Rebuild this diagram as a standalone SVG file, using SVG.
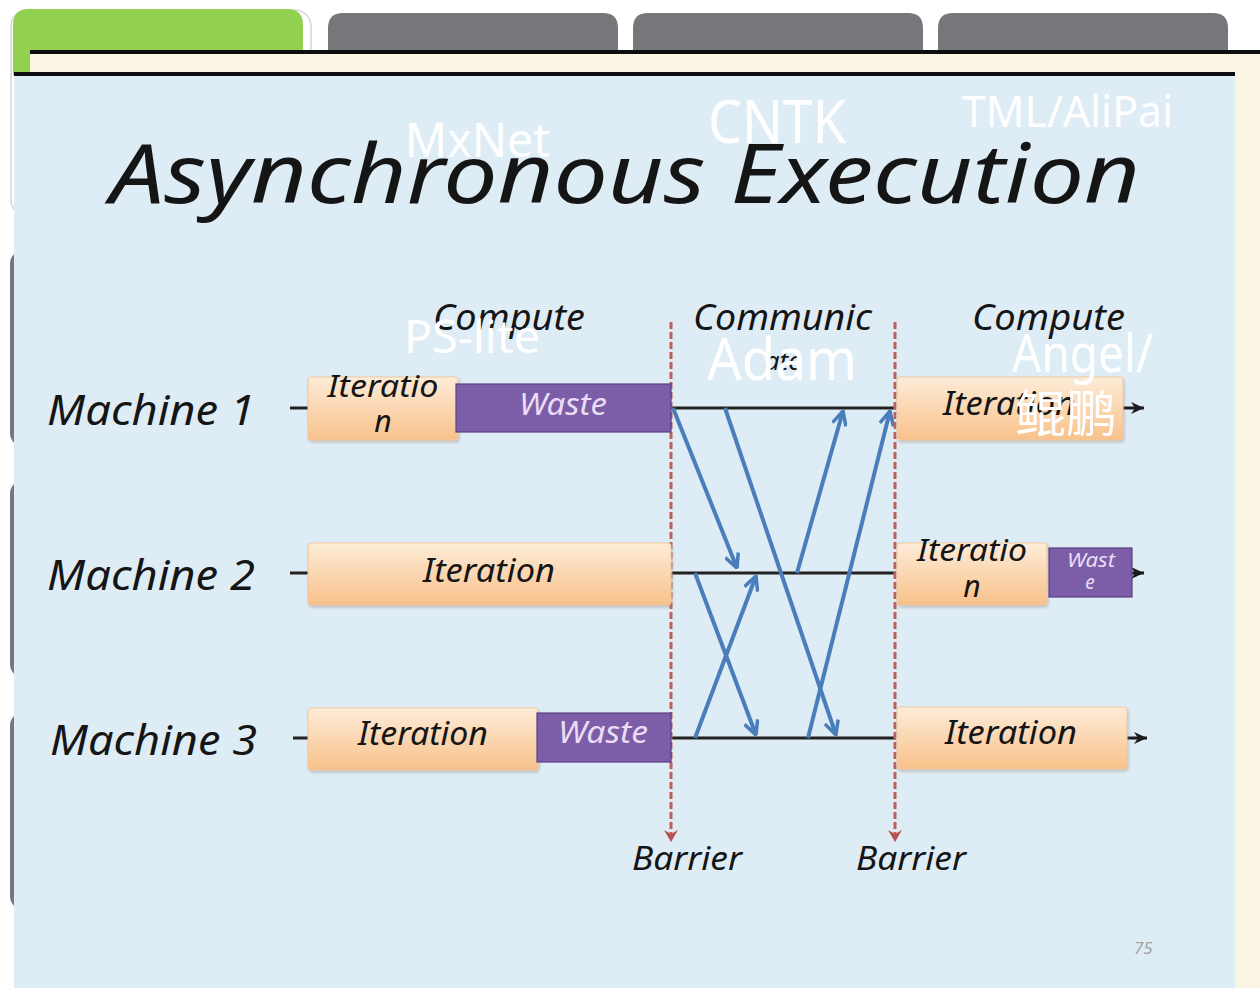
<svg xmlns="http://www.w3.org/2000/svg" width="1260" height="988" viewBox="0 0 1260 988">
  <defs>
    <linearGradient id="peach" x1="0" y1="0" x2="0" y2="1">
      <stop offset="0" stop-color="#fdecd8"/>
      <stop offset="1" stop-color="#f8c18a"/>
    </linearGradient>
    <filter id="shadow" x="-5%" y="-10%" width="110%" height="130%">
      <feDropShadow dx="1" dy="2" stdDeviation="1.5" flood-color="#9a8a7a" flood-opacity="0.45"/>
    </filter>
    <marker id="blueHead" viewBox="0 0 16 16" refX="15" refY="8" markerWidth="16" markerHeight="16" markerUnits="userSpaceOnUse" orient="auto">
      <path d="M1,1 L15,8 L1,15" fill="none" stroke="#4a7ebb" stroke-width="3.5" stroke-linejoin="miter"/>
    </marker>
    <marker id="blackHead" viewBox="0 0 16 16" refX="15" refY="8" markerWidth="16" markerHeight="16" markerUnits="userSpaceOnUse" orient="auto">
      <path d="M2,2 L15,8 L2,14 L6,8 Z" fill="#1a1a1a"/>
    </marker>
    <marker id="redHead" viewBox="0 0 16 16" refX="8" refY="15" markerWidth="16" markerHeight="16" markerUnits="userSpaceOnUse" orient="0">
      <path d="M1,3 L8,15 L15,3 L8,7 Z" fill="#b5524f"/>
    </marker>
  </defs>
  <style>
    .hand { font-family: "Noto Sans", "DejaVu Sans", sans-serif; font-style: italic; fill: #151515; }
    .waste { font-family: "Noto Sans", "DejaVu Sans", sans-serif; font-style: italic; fill: #eadcf4; }
    .over { font-family: "Noto Sans", "Open Sans", "Noto Sans CJK SC", sans-serif; fill: #ffffff; }
    .iter { fill: url(#peach); stroke: #efc9a2; stroke-width: 1; filter: url(#shadow); }
    .wbox { fill: #7b5ea7; stroke: #5a4282; stroke-width: 1.2; }
    .tab { fill: #77777b; }
    .rail { stroke: #222222; stroke-width: 3; fill: none; }
    .msg { stroke: #4a7ebb; stroke-width: 4; fill: none; marker-end: url(#blueHead); }
    .barrier { stroke: #c0605a; stroke-width: 3; stroke-dasharray: 7 3; fill: none; marker-end: url(#redHead); }
    .out { stroke: #1a1a1a; stroke-width: 3; fill: none; marker-end: url(#blackHead); }
  </style>

  <!-- page background -->
  <rect width="1260" height="988" fill="#ffffff"/>

  <!-- slide frames peeking out on the left -->
  <g id="frames">
    <rect x="11" y="10" width="300" height="206" rx="16" fill="none" stroke="#d6d6d6" stroke-width="1.5"/>
    <rect x="10" y="250" width="40" height="197" rx="14" fill="#77777b"/>
    <rect x="10" y="480" width="40" height="198" rx="14" fill="#77777b"/>
    <rect x="10" y="712" width="40" height="198" rx="14" fill="#77777b"/>
  </g>

  <!-- top navigation tabs -->
  <g id="tabs">
    <path d="M13,75 L13,25 Q13,9 29,9 L287,9 Q303,9 303,25 L303,75 Z" fill="#92d050"/>
    <path class="tab" d="M328,52 L328,28 Q328,13 343,13 L603,13 Q618,13 618,28 L618,52 Z"/>
    <path class="tab" d="M633,52 L633,28 Q633,13 648,13 L908,13 Q923,13 923,28 L923,52 Z"/>
    <path class="tab" d="M938,52 L938,28 Q938,13 953,13 L1213,13 Q1228,13 1228,28 L1228,52 Z"/>
  </g>

  <!-- cream band and right strip -->
  <g id="band">
    <rect x="30" y="52" width="1230" height="936" fill="#fbf6e4"/>
    <rect x="30" y="50" width="1230" height="4" fill="#0d0d0d"/>
    <rect x="14" y="72" width="1221" height="4" fill="#0d0d0d"/>
  </g>

  <!-- light blue slide panel -->
  <rect id="panel" x="14" y="76" width="1221" height="912" fill="#deecf5"/>

  <!-- heading -->
  <g id="title">
    <text class="hand" x="110" y="203" font-size="82" textLength="1030" lengthAdjust="spacingAndGlyphs">Asynchronous Execution</text>
  </g>

  <!-- phase headers -->
  <g id="headers">
    <text class="hand" x="433" y="330" font-size="36" textLength="152" lengthAdjust="spacingAndGlyphs">Compute</text>
    <text class="hand" x="693" y="330" font-size="36" textLength="179" lengthAdjust="spacingAndGlyphs">Communic</text>
    <text class="hand" x="783" y="370" font-size="26" text-anchor="middle">ate</text>
    <text class="hand" x="972" y="330" font-size="36" textLength="153" lengthAdjust="spacingAndGlyphs">Compute</text>
  </g>

  <!-- machine labels -->
  <g id="machine1">
    <text class="hand" x="47" y="425" font-size="42" textLength="208" lengthAdjust="spacingAndGlyphs">Machine 1</text>
  </g>
  <g id="machine2">
    <text class="hand" x="47" y="590" font-size="42" textLength="208" lengthAdjust="spacingAndGlyphs">Machine 2</text>
  </g>
  <g id="machine3">
    <text class="hand" x="50" y="755" font-size="42" textLength="207" lengthAdjust="spacingAndGlyphs">Machine 3</text>
  </g>

  <!-- connectors: rails, messages, barriers -->
  <g id="connectors">
    <path class="rail" d="M290,408 H308 M290,573 H308 M293,738 H308"/>
    <path class="rail" d="M672,408 H896 M672,573 H896 M672,738 H896"/>
    <path class="msg" d="M673,408 L737,568"/>
    <path class="msg" d="M725,408 L836,735"/>
    <path class="msg" d="M797,573 L843,411"/>
    <path class="msg" d="M808,738 L890,411"/>
    <path class="msg" d="M695,573 L756,735"/>
    <path class="msg" d="M695,738 L756,576"/>
    <path class="barrier" d="M671,322 V842"/>
    <path class="barrier" d="M895,322 V842"/>
    <path class="out" d="M1123,408 H1144"/>
    <path class="out" d="M1132,573 H1144"/>
    <path class="out" d="M1127,738 H1147"/>
  </g>

  <!-- machine 1 timeline -->
  <g id="m1-iter">
    <rect class="iter" x="308" y="377" width="150" height="63" rx="3"/>
    <text class="hand" x="383" y="397" font-size="30" text-anchor="middle" textLength="111" lengthAdjust="spacingAndGlyphs">Iteratio</text>
    <text class="hand" x="383" y="432" font-size="30" text-anchor="middle">n</text>
  </g>
  <g id="m1-waste">
    <rect class="wbox" x="456" y="384" width="215" height="48"/>
    <text class="waste" x="563" y="415" font-size="30" text-anchor="middle" textLength="88" lengthAdjust="spacingAndGlyphs">Waste</text>
  </g>
  <g id="m1-next">
    <rect class="iter" x="897" y="377" width="226" height="63" rx="3"/>
    <text class="hand" x="943" y="415" font-size="32" textLength="132" lengthAdjust="spacingAndGlyphs">Iteration</text>
  </g>

  <!-- machine 2 timeline -->
  <g id="m2-iter">
    <rect class="iter" x="308" y="543" width="363" height="62" rx="3"/>
    <text class="hand" x="423" y="582" font-size="32" textLength="132" lengthAdjust="spacingAndGlyphs">Iteration</text>
  </g>
  <g id="m2-next">
    <rect class="iter" x="897" y="543" width="150" height="62" rx="3"/>
    <text class="hand" x="972" y="561" font-size="30" text-anchor="middle" textLength="110" lengthAdjust="spacingAndGlyphs">Iteratio</text>
    <text class="hand" x="972" y="597" font-size="30" text-anchor="middle">n</text>
  </g>
  <g id="m2-waste">
    <rect class="wbox" x="1049" y="548" width="83" height="49"/>
    <text class="waste" x="1091" y="567" font-size="19" text-anchor="middle" textLength="48" lengthAdjust="spacingAndGlyphs">Wast</text>
    <text class="waste" x="1090" y="589" font-size="19" text-anchor="middle">e</text>
  </g>

  <!-- machine 3 timeline -->
  <g id="m3-iter">
    <rect class="iter" x="308" y="708" width="230" height="62" rx="3"/>
    <text class="hand" x="358" y="745" font-size="32" textLength="130" lengthAdjust="spacingAndGlyphs">Iteration</text>
  </g>
  <g id="m3-waste">
    <rect class="wbox" x="537" y="713" width="134" height="49"/>
    <text class="waste" x="558" y="743" font-size="30" textLength="90" lengthAdjust="spacingAndGlyphs">Waste</text>
  </g>
  <g id="m3-next">
    <rect class="iter" x="897" y="707" width="230" height="62" rx="3"/>
    <text class="hand" x="945" y="744" font-size="32" textLength="132" lengthAdjust="spacingAndGlyphs">Iteration</text>
  </g>

  <!-- barrier captions -->
  <g id="barrier1">
    <text class="hand" x="632" y="870" font-size="32" textLength="110" lengthAdjust="spacingAndGlyphs">Barrier</text>
  </g>
  <g id="barrier2">
    <text class="hand" x="856" y="870" font-size="32" textLength="110" lengthAdjust="spacingAndGlyphs">Barrier</text>
  </g>

  <!-- slide number -->
  <text class="hand" x="1134" y="954" font-size="17" style="fill:#a3a3a3">75</text>

  <!-- framework names in white -->
  <g id="frameworks">
    <text class="over" x="405" y="157" font-size="48" textLength="145" lengthAdjust="spacingAndGlyphs">MxNet</text>
    <text class="over" x="708" y="143" font-size="60" textLength="138" lengthAdjust="spacingAndGlyphs">CNTK</text>
    <text class="over" x="962" y="127" font-size="44" textLength="211" lengthAdjust="spacingAndGlyphs">TML/AliPai</text>
    <text class="over" x="404" y="353" font-size="46" textLength="136" lengthAdjust="spacingAndGlyphs">PS-lite</text>
    <text class="over" x="707" y="380" font-size="58" textLength="150" lengthAdjust="spacingAndGlyphs">Adam</text>
    <text class="over" x="1012" y="372" font-size="52" textLength="141" lengthAdjust="spacingAndGlyphs">Angel/</text>
    <text class="over" x="1015" y="432" font-size="50" textLength="102" lengthAdjust="spacingAndGlyphs" style="font-family:'Noto Sans CJK SC', sans-serif">鲲鹏</text>
  </g>
</svg>
